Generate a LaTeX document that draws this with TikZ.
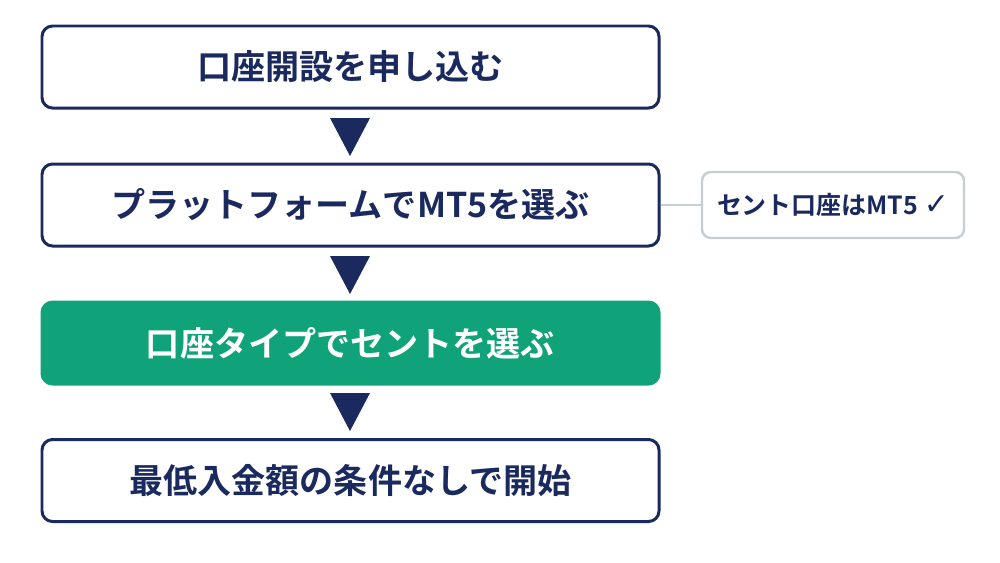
\documentclass[tikz,border=0pt]{standalone}
\usepackage{fontspec}
\newfontfamily\cjk{Noto Sans CJK JP}[BoldFont={* Bold}]
\newfontfamily\dv{DejaVu Sans}
\definecolor{navy}{HTML}{1B2A5E}
\definecolor{grn}{HTML}{10A37A}
\definecolor{gry}{HTML}{C8CDD5}
\begin{document}
\begin{tikzpicture}[x=0.02cm,y=-0.02cm,
 stepbox/.style={draw=navy,line width=1.7pt,rounded corners=6pt,minimum width=617*0.02cm,minimum height=82*0.02cm,fill=white,font=\cjk\bfseries\fontsize{19.4}{22}\selectfont,text=navy},
 hl/.style={stepbox,fill=grn,draw=grn,text=white},
 side/.style={draw=gry,line width=1.4pt,rounded corners=5pt,minimum width=262*0.02cm,minimum height=66*0.02cm,fill=white,font=\cjk\bfseries\fontsize{14.2}{16}\selectfont,text=navy},
 tri/.style={fill=navy}]
\useasboundingbox (0,0) rectangle (1000,562);
\node[stepbox] (s1) at (350.5,67) {口座開設を申し込む};
\node[stepbox] (s2) at (350.5,205) {プラットフォームでMT5を選ぶ};
\node[hl] (s3) at (350.5,343) {口座タイプでセントを選ぶ};
\node[stepbox] (s4) at (350.5,480.5) {最低入金額の条件なしで開始};
\node[side] (n) at (833,205) {セント口座はMT5 {\dv\bfseries\fontsize{17}{18}\selectfont ✓}};
\draw[gry,line width=1.4pt] (s2.east) -- (n.west);
\foreach \y in {118,256,393}{\fill[tri] (330,\y) -- (370,\y) -- (350,\y+38) -- cycle;}
\end{tikzpicture}
\end{document}
